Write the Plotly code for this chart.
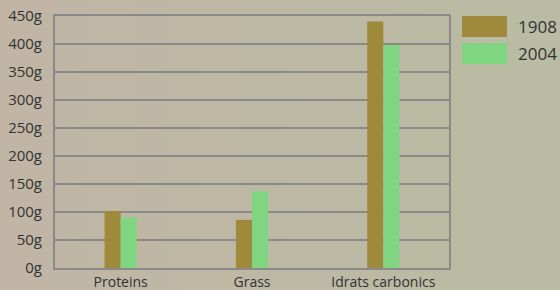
import base64
import plotly.graph_objects as go

categories = ["Proteins", "Grass", "Idrats carbonics"]
series_names = ["1908", "2004"]
values_1908 = [102, 86, 440]
values_2004 = [90, 137, 398]
y_ticks = [0, 50, 100, 150, 200, 250, 300, 350, 400, 450]
y_tick_labels = [f"{v}g" for v in y_ticks]

colors = ["#9e8a3a", "#80d680"]
FONT = "Open Sans"

svg = ('<svg xmlns="http://www.w3.org/2000/svg" width="560" height="290" preserveAspectRatio="none">'
       '<defs><linearGradient id="g" x1="0" y1="0" x2="1" y2="0">'
       '<stop offset="0" stop-color="#c1b5a5"/><stop offset="1" stop-color="#b9bca3"/>'
       '</linearGradient></defs><rect width="560" height="290" fill="url(#g)"/></svg>')
bg_uri = "data:image/svg+xml;base64," + base64.b64encode(svg.encode()).decode()

fig = go.Figure()
for name, vals, col in zip(series_names, [values_1908, values_2004], colors):
    fig.add_trace(go.Bar(x=categories, y=vals, name=name, marker_color=col,
                         marker_line_width=0, showlegend=False))

fig.update_layout(
    width=560, height=290,
    margin=dict(l=55, r=111, t=16, b=22, autoexpand=False),
    paper_bgcolor="rgba(0,0,0,0)",
    plot_bgcolor="rgba(0,0,0,0)",
    barmode="group", bargap=0.755, bargroupgap=0,
    font=dict(family=FONT, color="#333333"),
    images=[dict(source=bg_uri, xref="paper", yref="paper", x=-55/394, y=1+16/252,
                 sizex=560/394, sizey=290/252, sizing="stretch", layer="below",
                 xanchor="left", yanchor="top")],
)
fig.update_yaxes(range=[0, 450], tickvals=y_ticks, ticktext=y_tick_labels,
                 showgrid=True, gridcolor="#8a8a8a", gridwidth=2,
                 showline=True, linecolor="#8a8a8a", linewidth=2, mirror=True,
                 tickfont=dict(size=15, color="#333333"), ticklabelstandoff=8,
                 zeroline=False, fixedrange=True, automargin=False)
fig.update_xaxes(showline=True, linecolor="#8a8a8a", linewidth=2, mirror=True,
                 tickfont=dict(size=14, color="#333333"), ticklabelstandoff=0,
                 fixedrange=True, automargin=False)

# custom legend
for i, (name, col) in enumerate(zip(series_names, colors)):
    y0 = 1 - (i * 27) / 252
    fig.add_shape(type="rect", xref="paper", yref="paper",
                  x0=(462 - 55) / 394, x1=(507 - 55) / 394,
                  y0=y0 - 21 / 252, y1=y0, fillcolor=col, line_width=0)
    fig.add_annotation(xref="paper", yref="paper", x=(516 - 55) / 394, y=y0 - 10.5 / 252,
                       text=name, showarrow=False, xanchor="left", yanchor="middle",
                       font=dict(size=17, color="#333333"))

fig.write_html("out.html", config={"displayModeBar": False},
               post_script="document.body.style.margin='0';document.body.style.padding='0';")
